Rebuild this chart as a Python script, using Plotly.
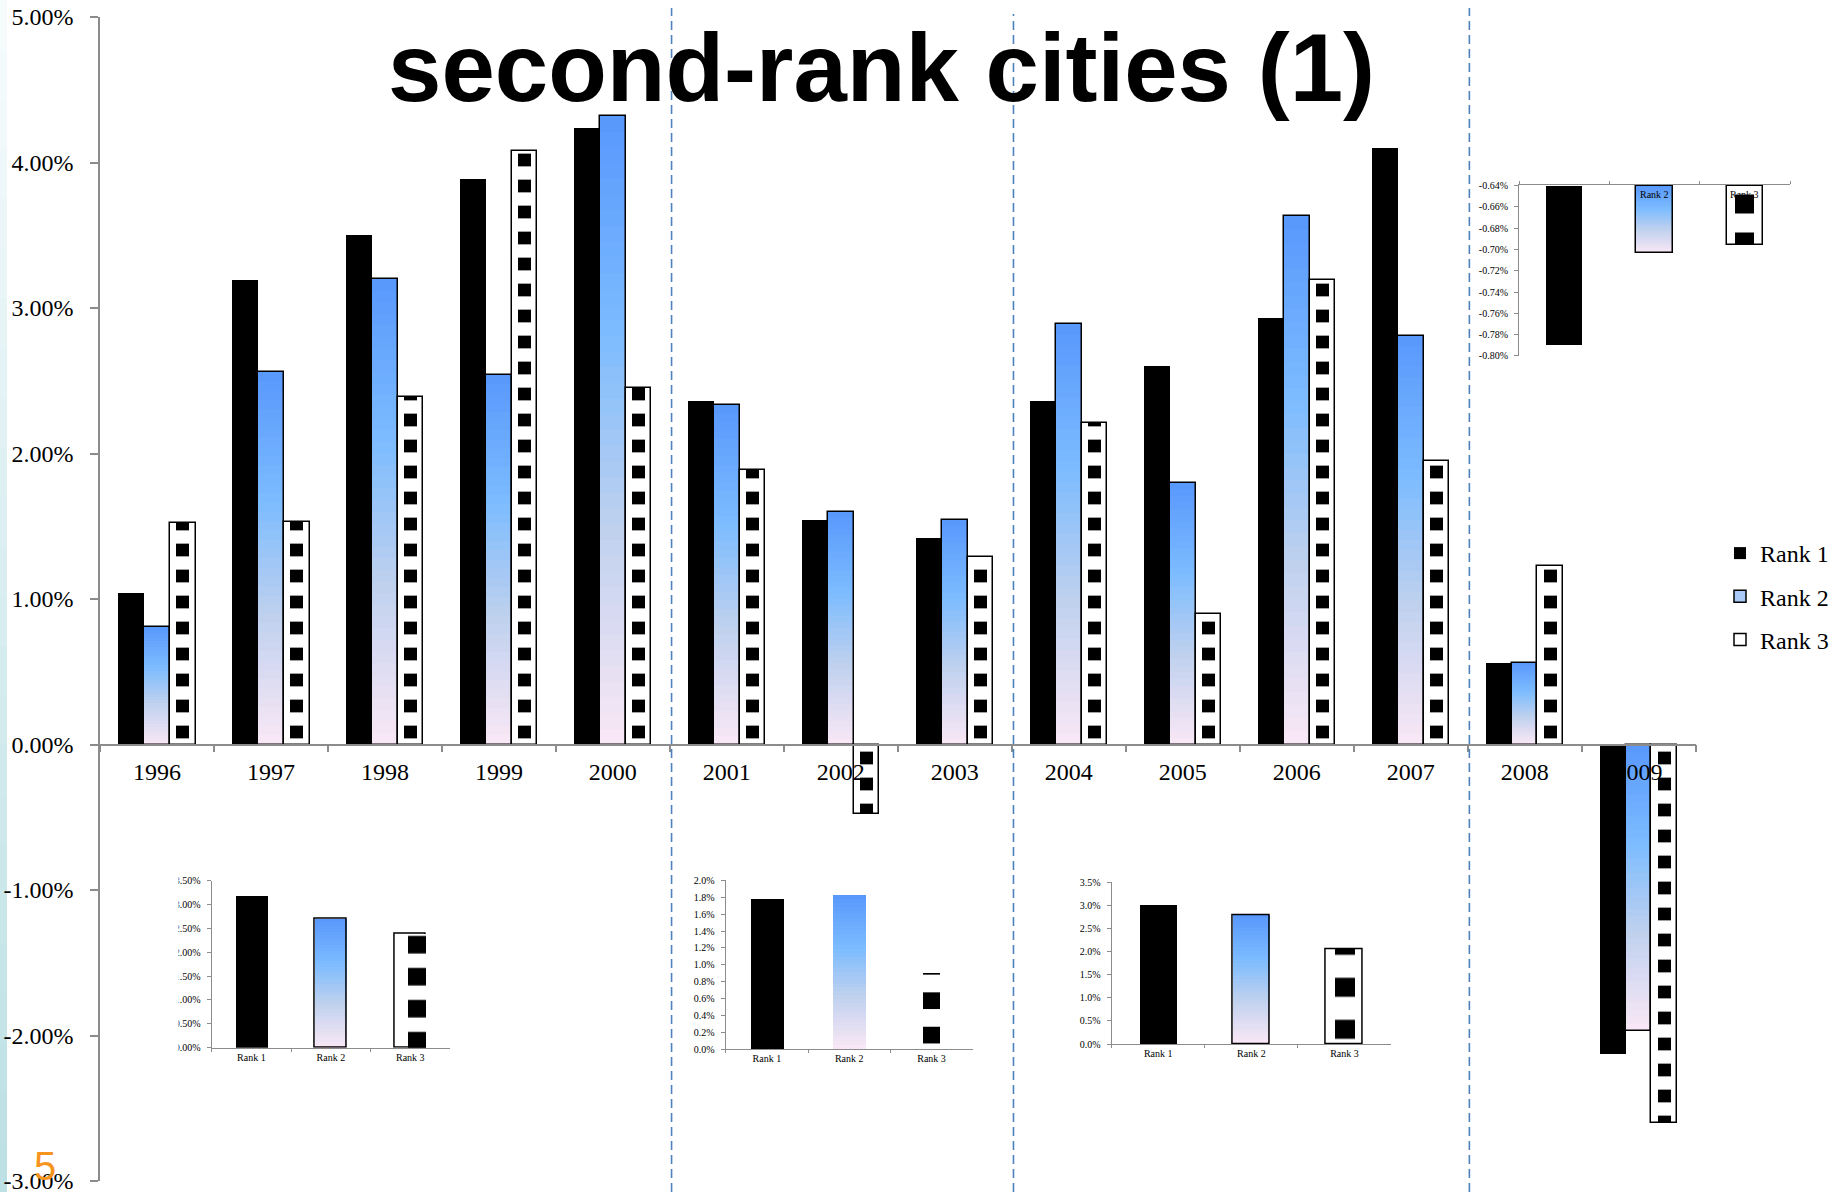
import plotly.graph_objects as go

# ---------------- data ----------------
years = ["1996", "1997", "1998", "1999", "2000", "2001", "2002",
         "2003", "2004", "2005", "2006", "2007", "2008", "2009"]
rank1 = [1.04, 3.19, 3.50, 3.89, 4.24, 2.36, 1.54, 1.42, 2.36, 2.60, 2.93, 4.10, 0.56, -2.13]
rank2 = [0.81, 2.56, 3.20, 2.54, 4.32, 2.33, 1.60, 1.54, 2.89, 1.80, 3.63, 2.81, 0.56, -1.97]
rank3 = [1.52, 1.53, 2.39, 4.08, 2.45, 1.89, -0.48, 1.29, 2.21, 0.90, 3.19, 1.95, 1.23, -2.60]

main_ticks = [-3, -2, -1, 0, 1, 2, 3, 4, 5]
main_ticktext = ["-3.00%", "-2.00%", "-1.00%", "0.00%", "1.00%", "2.00%", "3.00%", "4.00%", "5.00%"]

ranks = ["Rank 1", "Rank 2", "Rank 3"]
avg_1996_2000 = [3.18, 2.70, 2.38]
avg_2001_2003 = [1.77, 1.82, 0.90]
avg_2004_2007 = [3.00, 2.78, 2.06]
avg_2008_2009 = [-0.79, -0.703, -0.696]

in1_ticks = [0, 0.5, 1.0, 1.5, 2.0, 2.5, 3.0, 3.5]
in1_text = ["0.00%", "0.50%", "1.00%", "1.50%", "2.00%", "2.50%", "3.00%", "3.50%"]
in2_ticks = [0, 0.2, 0.4, 0.6, 0.8, 1.0, 1.2, 1.4, 1.6, 1.8, 2.0]
in2_text = ["0.0%", "0.2%", "0.4%", "0.6%", "0.8%", "1.0%", "1.2%", "1.4%", "1.6%", "1.8%", "2.0%"]
in3_ticks = [0, 0.5, 1.0, 1.5, 2.0, 2.5, 3.0, 3.5]
in3_text = ["0.0%", "0.5%", "1.0%", "1.5%", "2.0%", "2.5%", "3.0%", "3.5%"]
in4_ticks = [-0.80, -0.78, -0.76, -0.74, -0.72, -0.70, -0.68, -0.66, -0.64]
in4_text = ["-0.80%", "-0.78%", "-0.76%", "-0.74%", "-0.72%", "-0.70%", "-0.68%", "-0.66%", "-0.64%"]

title_text = "second-rank cities (1)"
page_number = "5"

# ---------------- geometry helpers ----------------
W, H = 1829, 1192
ML, MR, MT, MB = 100, 29, 17, 11
PW = W - ML - MR
PH = H - MT - MB


def px(x):
    return (x - ML) / PW


def py(y):
    return (H - MB - y) / PH


SERIF = "Liberation Serif"
SANS = "Liberation Sans"
AXIS_GREY = "#8c8c8c"

STOPS = [(0.0, (88, 152, 252)), (0.35, (125, 188, 255)),
         (0.65, (190, 208, 238)), (1.0, (250, 232, 246))]


def grad(t):
    t = max(0.0, min(1.0, t))
    for (t0, c0), (t1, c1) in zip(STOPS[:-1], STOPS[1:]):
        if t <= t1:
            f = (t - t0) / (t1 - t0)
            c = [round(a + (b - a) * f) for a, b in zip(c0, c1)]
            return "rgb(%d,%d,%d)" % tuple(c)
    return "rgb(%d,%d,%d)" % STOPS[-1][1]


fig = go.Figure()


def add_set(c1, c2, c3, v1, v2, v3, xa, ya, base, w, offs, inner_w, inner_off,
            tile, sol, invert=False, r2_outline=True, r3_outline=True, N=40, lw=1.5):
    # Rank 1: solid black
    fig.add_trace(go.Bar(x=c1, y=[v - base for v in v1], base=[base] * len(c1), width=w,
                         offset=offs[0], marker=dict(color="black", line=dict(width=0)),
                         xaxis=xa, yaxis=ya, showlegend=False, hoverinfo="skip"))
    # Rank 2: vertical gradient (painter's order, each shorter bar drawn on top)
    gx, gy, gb, gc = [], [], [], []
    for k in range(N):
        frac = (N - k) / N
        f = (N - k - 0.5) / N
        for c, v in zip(c2, v2):
            gx.append(c)
            gb.append(base)
            gy.append((v - base) * frac)
            gc.append(grad(1 - f if v > base else f))
    fig.add_trace(go.Bar(x=gx, y=gy, base=gb, width=w, offset=offs[1],
                         marker=dict(color=gc, line=dict(width=0)),
                         xaxis=xa, yaxis=ya, showlegend=False, hoverinfo="skip"))
    if r2_outline:
        fig.add_trace(go.Bar(x=c2, y=[v - base for v in v2], base=[base] * len(c2), width=w,
                             offset=offs[1],
                             marker=dict(color="rgba(0,0,0,0)", line=dict(width=lw, color="black")),
                             xaxis=xa, yaxis=ya, showlegend=False, hoverinfo="skip"))
    # Rank 3: white box + column of black squares
    if r3_outline:
        fig.add_trace(go.Bar(x=c3, y=[v - base for v in v3], base=[base] * len(c3), width=w,
                             offset=offs[2],
                             marker=dict(color="white", line=dict(width=lw, color="black")),
                             xaxis=xa, yaxis=ya, showlegend=False, hoverinfo="skip"))
    fg, bg = ("white", "black") if invert else ("black", "rgba(0,0,0,0)")
    fig.add_trace(go.Bar(x=c3, y=[v - base for v in v3], base=[base] * len(c3), width=inner_w,
                         offset=inner_off,
                         marker=dict(color="rgba(0,0,0,0)", line=dict(width=0),
                                     pattern=dict(shape="-", size=tile, solidity=sol,
                                                  fgcolor=fg, bgcolor=bg, fillmode="replace")),
                         xaxis=xa, yaxis=ya, showlegend=False, hoverinfo="skip"))


# main chart
bw = 0.2255
add_set(years, years, years, rank1, rank2, rank3, "x", "y", 0.0, bw,
        [-1.5 * bw, -0.5 * bw, 0.5 * bw], 0.111, 0.5 * bw + (bw - 0.111) / 2, 26, 0.49)

# insets (period averages)
R1, R2, R3 = [ranks[0]], [ranks[1]], [ranks[2]]
add_set(R1, R2, R3, avg_1996_2000[0:1], avg_1996_2000[1:2], avg_1996_2000[2:3], "x2", "y2",
        0.0, 0.40, [-0.2, -0.2, -0.2], 0.23, -0.03, 32, 0.45, invert=True)
add_set(R1, R2, R3, avg_2001_2003[0:1], avg_2001_2003[1:2], avg_2001_2003[2:3], "x3", "y3",
        0.0, 0.40, [-0.2, -0.2, -0.2], 0.21, -0.105, 34.4, 0.49, r2_outline=False, r3_outline=False)
add_set(R1, R2, R3, avg_2004_2007[0:1], avg_2004_2007[1:2], avg_2004_2007[2:3], "x4", "y4",
        0.0, 0.40, [-0.2, -0.2, -0.2], 0.215, -0.1, 42, 0.45)
add_set(R1, R2, R3, avg_2008_2009[0:1], avg_2008_2009[1:2], avg_2008_2009[2:3], "x5", "y5",
        -0.64, 0.40, [-0.2, -0.2, -0.2], 0.21, -0.105, 38, 0.5)

# legend entries (zero-height bars)
for name, col, rank in [("Rank 1", "black", 1), ("Rank 2", "#a9c9f7", 2), ("Rank 3", "white", 3)]:
    fig.add_trace(go.Bar(x=[years[0]], y=[0], base=[0], width=0.0001, offset=0,
                         name=name, legendrank=rank, legendgroup=name,
                         marker=dict(color=col, line=dict(width=1.5 if rank > 1 else 0, color="black")),
                         xaxis="x", yaxis="y", showlegend=True, hoverinfo="skip"))

# ---------------- axes ----------------
main_x = dict(domain=[0, px(1695.6)], anchor="free", position=0.375, type="category",
              categoryorder="array", categoryarray=years, range=[-0.5, 13.5], automargin=False,
              showline=True, linecolor=AXIS_GREY, linewidth=1.5, ticklabeloverflow="allow",
              ticks="outside", tickson="boundaries", ticklen=7, tickcolor=AXIS_GREY, tickwidth=1.5,
              tickfont=dict(family=SERIF, size=24, color="black"), ticklabelstandoff=6,
              showgrid=False, zeroline=False)
main_y = dict(domain=[0, 1], anchor="x", range=[-3, 5], tickvals=main_ticks, ticktext=main_ticktext,
              automargin=False, showline=True, linecolor=AXIS_GREY, linewidth=1.5,
              ticklabeloverflow="allow",
              ticks="outside", ticklen=8, tickcolor=AXIS_GREY, tickwidth=1.5,
              tickfont=dict(family=SERIF, size=24, color="black"), ticklabelstandoff=12,
              showgrid=False, zeroline=False)


def inset_axes(xd, yd, yrange, tv, tt, side="bottom", labels=True):
    xa = dict(domain=xd, type="category", categoryorder="array", categoryarray=ranks,
              range=[-0.5, 2.5], automargin=False, showline=True, linecolor=AXIS_GREY, linewidth=1,
              ticks="outside", tickson="boundaries", ticklen=3, tickcolor=AXIS_GREY,
              tickfont=dict(family=SERIF, size=10, color="black"), ticklabeloverflow="allow",
              showticklabels=labels, showgrid=False, zeroline=False, side=side)
    ya = dict(domain=yd, range=yrange, tickvals=tv, ticktext=tt, automargin=False,
              showline=True, linecolor=AXIS_GREY, linewidth=1, ticklabeloverflow="allow",
              ticks="outside", ticklen=4, tickcolor=AXIS_GREY,
              tickfont=dict(family=SERIF, size=10, color="black"), ticklabelstandoff=4,
              showgrid=False, zeroline=False)
    return xa, ya


x2, y2 = inset_axes([px(211.7), px(450)], [py(1047.7), py(880.7)], [0, 3.5], in1_ticks, in1_text)
x3, y3 = inset_axes([px(725.7), px(972.7)], [py(1049.3), py(880.3)], [0, 2.0], in2_ticks, in2_text)
x4, y4 = inset_axes([px(1111.7), px(1391)], [py(1044), py(882.3)], [0, 3.5], in3_ticks, in3_text)
x5, y5 = inset_axes([px(1519), px(1790)], [py(356), py(185)], [-0.8001, -0.6395], in4_ticks, in4_text,
                    side="top", labels=False)
for a, b, n in [(x2, y2, "2"), (x3, y3, "3"), (x4, y4, "4"), (x5, y5, "5")]:
    a["anchor"] = "y" + n
    b["anchor"] = "x" + n

# ---------------- decorations ----------------
shapes = []
# left teal strip
NS = 24
for i in range(NS):
    t = i / (NS - 1)
    c0, c1 = (246, 251, 252), (188, 224, 228)
    col = "rgb(%d,%d,%d)" % tuple(round(a + (b - a) * t) for a, b in zip(c0, c1))
    y0 = H * i / NS
    y1 = H * (i + 1) / NS + 1
    shapes.append(dict(type="rect", xref="paper", yref="paper", x0=px(0), x1=px(7),
                       y0=py(y1), y1=py(y0), fillcolor=col, line=dict(width=0), layer="below"))
# dashed period separators (between 2000|2001, 2003|2004, 2007|2008)
for xb, ytop in [(4.5, 8), (7.5, 14), (11.5, 8)]:
    shapes.append(dict(type="line", xref="x", yref="paper", x0=xb + 0.015, x1=xb + 0.015,
                       y0=py(1192), y1=py(ytop),
                       line=dict(color="#4f81bd", width=1.6, dash="9px,5px"), layer="above"))
# clip of first inset's tick labels
shapes.append(dict(type="rect", xref="paper", yref="paper", x0=px(165), x1=px(178.5),
                   y0=py(1055), y1=py(872), fillcolor="white", line=dict(width=0), layer="above"))

annotations = [
    dict(text="<b>" + title_text + "</b>", xref="paper", yref="paper", x=px(881), y=py(68),
         xanchor="center", yanchor="middle", showarrow=False,
         font=dict(family=SANS, size=96, color="black")),
    dict(text=page_number, xref="paper", yref="paper", x=px(45), y=py(1166),
         xanchor="center", yanchor="middle", showarrow=False,
         font=dict(family=SANS, size=40, color="#f7941d")),
]
# category labels of the top-right inset, just under its top axis line
for r in ranks:
    annotations.append(dict(text=r, xref="x5", yref="y5", x=r, y=-0.6395, yshift=-2,
                            xanchor="center", yanchor="top", showarrow=False,
                            font=dict(family=SERIF, size=10, color="black")))

fig.update_layout(
    width=W, height=H, autosize=False,
    margin=dict(l=ML, r=MR, t=MT, b=MB, pad=0, autoexpand=False),
    paper_bgcolor="white", plot_bgcolor="rgba(0,0,0,0)",
    barmode="overlay", bargap=0,
    xaxis=main_x, yaxis=main_y,
    xaxis2=x2, yaxis2=y2, xaxis3=x3, yaxis3=y3,
    xaxis4=x4, yaxis4=y4, xaxis5=x5, yaxis5=y5,
    showlegend=True,
    legend=dict(x=px(1720), y=py(531), xanchor="left", yanchor="top",
                traceorder="grouped", tracegroupgap=9, bgcolor="rgba(0,0,0,0)",
                itemwidth=30, font=dict(family=SERIF, size=24, color="black"), itemclick=False),
    shapes=shapes, annotations=annotations,
    font=dict(family=SERIF),
)

fig.write_html("out.html")
